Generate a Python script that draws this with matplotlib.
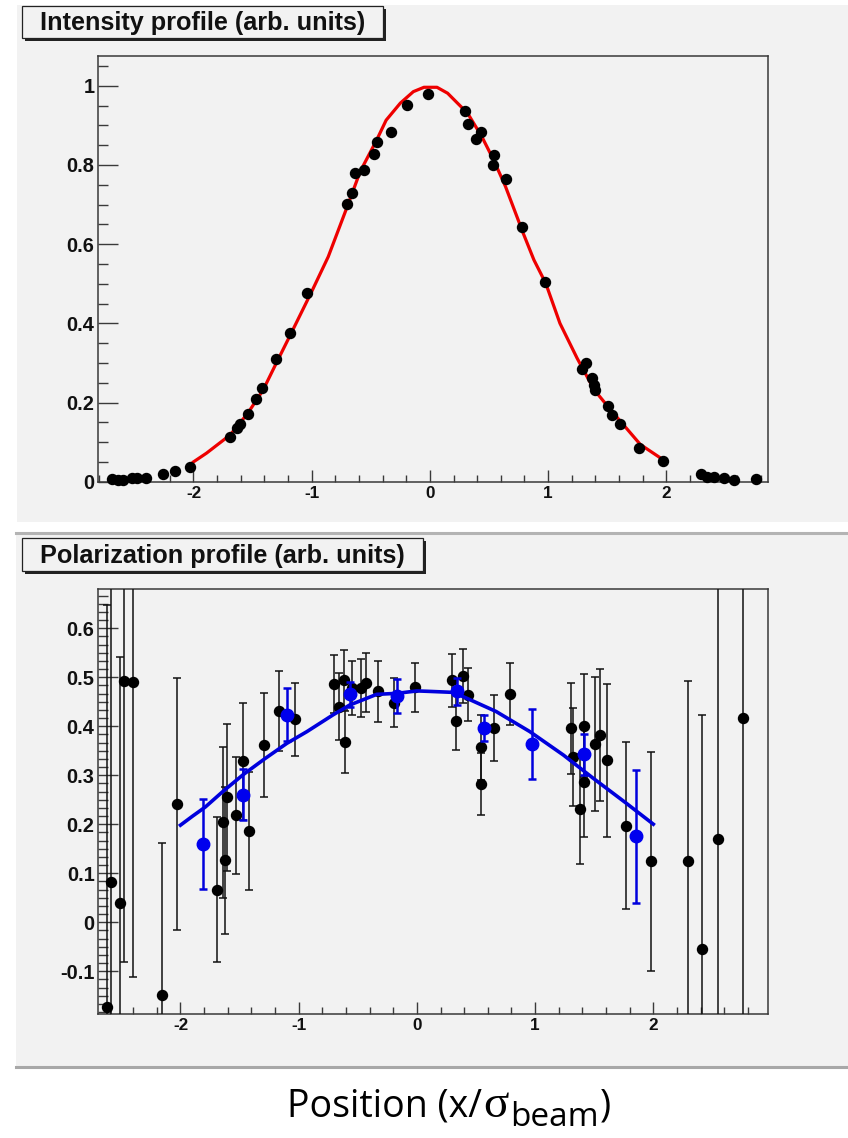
import matplotlib
matplotlib.use("Agg")
import matplotlib.pyplot as plt
from matplotlib.patches import Rectangle
from matplotlib.ticker import MultipleLocator, FuncFormatter

plt.rcParams['axes.unicode_minus'] = False

# ---------------- data: intensity profile ----------------
int_x = [-2.69, -2.64, -2.60, -2.52, -2.48, -2.40, -2.26, -2.16, -2.03, -1.69, -1.63, -1.61,
         -1.54, -1.47, -1.42, -1.30, -1.18, -1.04, -0.70, -0.66, -0.63, -0.56, -0.47, -0.45,
         -0.33, -0.19, -0.02, 0.30, 0.32, 0.39, 0.43, 0.53, 0.54, 0.64, 0.78, 0.97, 1.29,
         1.32, 1.37, 1.39, 1.40, 1.51, 1.54, 1.61, 1.77, 1.97, 2.29, 2.34, 2.40, 2.49, 2.57, 2.76]
int_y = [0.006, 0.004, 0.005, 0.009, 0.010, 0.009, 0.019, 0.027, 0.038, 0.114, 0.135, 0.145,
         0.171, 0.210, 0.237, 0.310, 0.376, 0.476, 0.701, 0.730, 0.780, 0.787, 0.828, 0.859,
         0.884, 0.951, 0.978, 0.936, 0.903, 0.865, 0.884, 0.800, 0.825, 0.764, 0.644, 0.505, 0.285,
         0.300, 0.261, 0.244, 0.232, 0.192, 0.168, 0.146, 0.086, 0.052, 0.019, 0.013, 0.011, 0.009, 0.004, 0.007]

int_fit_x = [-2.0, -1.89, -1.69, -1.54, -1.41, -1.30, -1.16, -1.00, -0.86, -0.70, -0.59, -0.45,
             -0.37, -0.25, -0.14, -0.05, 0.06, 0.15, 0.32, 0.44, 0.54, 0.64, 0.79, 0.88, 0.98,
             1.10, 1.245, 1.39, 1.53, 1.78, 2.0]
int_fit_y = [0.050, 0.072, 0.118, 0.173, 0.232, 0.299, 0.383, 0.480, 0.568, 0.694, 0.783, 0.863,
             0.913, 0.956, 0.985, 0.996, 0.996, 0.981, 0.930, 0.871, 0.812, 0.745, 0.627, 0.560, 0.501,
             0.400, 0.312, 0.232, 0.181, 0.094, 0.050]

# ---------------- data: polarization profile ----------------
pol_x = [-2.62, -2.59, -2.51, -2.48, -2.40, -2.16, -2.03, -1.69, -1.64, -1.62, -1.61, -1.53,
         -1.47, -1.42, -1.29, -1.17, -1.03, -0.70, -0.66, -0.62, -0.61, -0.55, -0.47, -0.43,
         -0.33, -0.19, -0.02, 0.30, 0.33, 0.39, 0.43, 0.54, 0.54, 0.65, 0.79, 1.30, 1.32,
         1.38, 1.41, 1.41, 1.51, 1.55, 1.61, 1.77, 1.98, 2.29, 2.41, 2.55, 2.76]
pol_y = [-0.173, 0.082, 0.040, 0.492, 0.491, -0.148, 0.241, 0.066, 0.204, 0.126, 0.255, 0.218,
         0.328, 0.186, 0.362, 0.431, 0.414, 0.486, 0.440, 0.495, 0.367, 0.478, 0.478, 0.489,
         0.471, 0.448, 0.479, 0.494, 0.411, 0.503, 0.464, 0.357, 0.282, 0.396, 0.465, 0.396, 0.337,
         0.231, 0.401, 0.287, 0.364, 0.382, 0.330, 0.197, 0.124, 0.124, -0.054, 0.170, 0.416]
pol_err = [0.82, 0.75, 0.502, 0.574, 0.602, 0.31, 0.257, 0.148, 0.154, 0.15, 0.15, 0.12,
           0.12, 0.12, 0.106, 0.082, 0.074, 0.060, 0.068, 0.061, 0.063, 0.056, 0.059, 0.060,
           0.062, 0.050, 0.050, 0.054, 0.060, 0.055, 0.054, 0.066, 0.064, 0.068, 0.063, 0.093, 0.100,
           0.113, 0.105, 0.114, 0.137, 0.134, 0.156, 0.170, 0.224, 0.368, 0.476, 0.90, 1.00]

blue_x = [-1.81, -1.47, -1.10, -0.57, -0.17, 0.34, 0.57, 0.975, 1.41, 1.85]
blue_y = [0.159, 0.260, 0.423, 0.465, 0.462, 0.471, 0.396, 0.364, 0.343, 0.175]
blue_err = [0.092, 0.052, 0.054, 0.026, 0.035, 0.027, 0.027, 0.071, 0.042, 0.135]

pol_fit_x = [-2.0, -1.9, -1.79, -1.64, -1.47, -1.29, -1.10, -0.93, -0.71, -0.57, -0.34, -0.17,
             0.0, 0.11, 0.31, 0.45, 0.67, 0.955, 1.24, 1.49, 1.77, 2.0]
pol_fit_y = [0.198, 0.216, 0.235, 0.267, 0.301, 0.333, 0.365, 0.389, 0.423, 0.443, 0.465, 0.467,
             0.472, 0.471, 0.469, 0.454, 0.430, 0.389, 0.341, 0.294, 0.243, 0.200]

top_title = "Intensity profile (arb. units)"
bot_title = "Polarization profile (arb. units)"
# x label pieces: text, font family, size (pt), baseline drop (px)
label_parts = [("Position (x/", 'Open Sans', 27, 0),
               ("\u03c3", 'Liberation Serif', 34, 0),
               ("beam", 'Open Sans', 24, 9),
               (")", 'Open Sans', 27, 0)]

# ---------------- layout ----------------
W, H = 848, 1138
fig = plt.figure(figsize=(W / 100, H / 100), dpi=100)
fig.patch.set_facecolor('white')

def fx(px):
    return px / W

def fy(py):
    return 1 - py / H

PANEL = '#f2f2f2'
FRAME = '#3a3a3a'
fig.add_artist(Rectangle((fx(17), fy(522)), fx(848) - fx(17), fy(5) - fy(522),
                         transform=fig.transFigure, facecolor=PANEL, edgecolor='none', zorder=0))
fig.add_artist(Rectangle((fx(16), fy(1066)), fx(848) - fx(16), fy(535) - fy(1066),
                         transform=fig.transFigure, facecolor=PANEL, edgecolor='none', zorder=0))
fig.add_artist(plt.Line2D([fx(16), fx(848)], [fy(533), fy(533)], transform=fig.transFigure,
                          color='#b4b4b4', lw=2.2, zorder=1))
fig.add_artist(plt.Line2D([fx(16), fx(848)], [fy(1066.5), fy(1066.5)], transform=fig.transFigure,
                          color='#a8a8a8', lw=2.2, zorder=1))

def title_box(x0, y0, x1, y1, text):
    fig.add_artist(Rectangle((fx(x0 + 3), fy(y1 + 3)), fx(x1) - fx(x0), fy(y0) - fy(y1),
                             transform=fig.transFigure, facecolor='#222222', edgecolor='none', zorder=2))
    fig.add_artist(Rectangle((fx(x0), fy(y1)), fx(x1) - fx(x0), fy(y0) - fy(y1),
                             transform=fig.transFigure, facecolor=PANEL, edgecolor='#222222',
                             lw=0.9, zorder=3))
    fig.text(fx((x0 + x1) / 2), fy((y0 + y1) / 2 + 1), text, ha='center', va='center',
             fontsize=18.2, fontweight='bold', family='Liberation Sans', color='#111111', zorder=4)

title_box(22, 6, 383, 38, top_title)
title_box(22, 538, 423, 571, bot_title)

ax1 = fig.add_axes([fx(97.7), fy(481.7), fx(768) - fx(97.7), fy(56) - fy(481.7)])
ax2 = fig.add_axes([fx(97.7), fy(1014.3), fx(768) - fx(97.7), fy(589) - fy(1014.3)])

def fmt(v, pos):
    s = ('%.1f' % v)
    if s.endswith('.0'):
        s = s[:-2]
    if s == '-0':
        s = '0'
    return s

for ax in (ax1, ax2):
    ax.set_facecolor(PANEL)
    for sp in ax.spines.values():
        sp.set_color(FRAME)
        sp.set_linewidth(1.1)
    ax.tick_params(which='both', direction='in', top=False, right=False, colors=FRAME, width=1.0)
    ax.tick_params(axis='y', which='major', length=14.5, pad=2.3, labelsize=14.4)
    ax.tick_params(axis='y', which='minor', length=7.2)
    ax.tick_params(axis='x', which='major', length=8.8, pad=3.0, labelsize=12.3)
    ax.tick_params(axis='x', which='minor', length=4.7)
    ax.xaxis.set_major_locator(MultipleLocator(1))
    ax.xaxis.set_minor_locator(MultipleLocator(0.2))
    ax.xaxis.set_major_formatter(FuncFormatter(fmt))
    ax.yaxis.set_major_formatter(FuncFormatter(fmt))

# ---- top panel ----
ax1.set_xlim(-2.81, 2.86)
ax1.set_ylim(0, 1.075)
ax1.yaxis.set_major_locator(MultipleLocator(0.2))
ax1.yaxis.set_minor_locator(MultipleLocator(0.05))
ax1.plot(int_fit_x, int_fit_y, color='#ee0000', lw=2.3, zorder=3)
ax1.plot(int_x, int_y, 'o', color='black', ms=7.2, zorder=4, clip_on=False)

# ---- bottom panel ----
ax2.set_xlim(-2.70, 2.97)
ax2.set_ylim(-0.188, 0.680)
ax2.yaxis.set_major_locator(MultipleLocator(0.1))
ax2.yaxis.set_minor_locator(MultipleLocator(0.1 / 6))
ax2.errorbar(pol_x, pol_y, yerr=pol_err, fmt='o', color='black', ms=7.2, elinewidth=1.1,
             capsize=2.6, capthick=1.1, ecolor='#111111', zorder=3)
ax2.plot(pol_fit_x, pol_fit_y, color='#0000dd', lw=2.6, zorder=4)
ax2.errorbar(blue_x, blue_y, yerr=blue_err, fmt='o', color='#0000ee', ms=9.0, elinewidth=1.8,
             capsize=2.6, capthick=1.8, ecolor='#0000dd', zorder=5)

for ax in (ax1, ax2):
    for lab in ax.get_xticklabels() + ax.get_yticklabels():
        lab.set_fontweight('bold')
        lab.set_family('Liberation Sans')
        lab.set_color('#111111')

# ---- x label composed of pieces, centred on the reference position ----
renderer = fig.canvas.get_renderer()
base_y = 1116.7
texts = []
cursor = 0.0
for s, fam, size, drop in label_parts:
    t = fig.text(0, 0, s, family=fam, fontsize=size, ha='left', va='baseline', color='black')
    w = t.get_window_extent(renderer).width
    texts.append((t, cursor, drop))
    cursor += w + 1
total = cursor - 1
start = 449 - total / 2
for t, off, drop in texts:
    t.set_position((fx(start + off), fy(base_y + drop)))

fig.savefig('out.png', dpi=100)
